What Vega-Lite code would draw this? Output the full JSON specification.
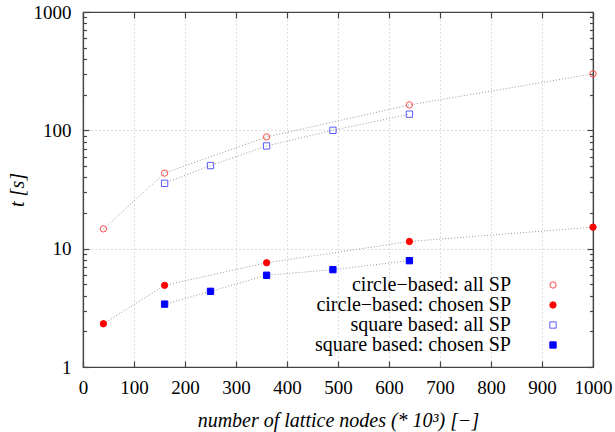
{
  "$schema": "https://vega.github.io/schema/vega-lite/v6.json",
  "width": 510,
  "height": 355,
  "autosize": {"type": "none"},
  "padding": {"left": 83, "top": 12, "right": 22, "bottom": 65},
  "background": "white",
  "config": {
    "view": {"stroke": "#444444", "strokeWidth": 1.2},
    "font": "Liberation Serif",
    "axis": {
      "labelFont": "Liberation Serif",
      "labelFontSize": 19,
      "labelColor": "black",
      "labelFlush": false,
      "labelOverlap": false,
      "titleFont": "Liberation Serif",
      "titleFontSize": 20,
      "titleFontStyle": "italic",
      "titleFontWeight": "normal",
      "titleColor": "black",
      "domainColor": "#444444",
      "domainWidth": 1.2,
      "tickColor": "#444444",
      "tickWidth": 1.2,
      "gridColor": "#bbbbbb",
      "gridDash": [1, 3],
      "gridWidth": 1
    },
    "legend": {
      "labelFont": "Liberation Serif",
      "labelFontSize": 20,
      "labelColor": "black",
      "labelLimit": 400
    }
  },
  "datasets": {
    "timings": [
      {"nodes": 40, "t": 14.7, "series": "circle−based: all SP"},
      {"nodes": 160, "t": 43.5, "series": "circle−based: all SP"},
      {"nodes": 360, "t": 88, "series": "circle−based: all SP"},
      {"nodes": 640, "t": 164, "series": "circle−based: all SP"},
      {"nodes": 1000, "t": 300, "series": "circle−based: all SP"},
      {"nodes": 40, "t": 2.32, "series": "circle−based: chosen SP"},
      {"nodes": 160, "t": 4.9, "series": "circle−based: chosen SP"},
      {"nodes": 360, "t": 7.6, "series": "circle−based: chosen SP"},
      {"nodes": 640, "t": 11.5, "series": "circle−based: chosen SP"},
      {"nodes": 1000, "t": 15.2, "series": "circle−based: chosen SP"},
      {"nodes": 160, "t": 35.7, "series": "square based: all SP"},
      {"nodes": 250, "t": 50.4, "series": "square based: all SP"},
      {"nodes": 360, "t": 73.8, "series": "square based: all SP"},
      {"nodes": 490, "t": 100, "series": "square based: all SP"},
      {"nodes": 640, "t": 137, "series": "square based: all SP"},
      {"nodes": 160, "t": 3.4, "series": "square based: chosen SP"},
      {"nodes": 250, "t": 4.36, "series": "square based: chosen SP"},
      {"nodes": 360, "t": 5.96, "series": "square based: chosen SP"},
      {"nodes": 490, "t": 6.65, "series": "square based: chosen SP"},
      {"nodes": 640, "t": 7.92, "series": "square based: chosen SP"}
    ]
  },
  "data": {"name": "timings"},
  "resolve": {"axis": {"x": "independent", "y": "independent"}},
  "layer": [
    {
      "mark": {"type": "line", "color": "#999999", "strokeWidth": 1, "strokeDash": [1, 2]},
      "encoding": {
        "x": {
          "field": "nodes",
          "type": "quantitative",
          "scale": {"domain": [0, 1000], "nice": false, "zero": false},
          "axis": {
            "orient": "bottom",
            "title": "number of lattice nodes (* 10³) [−]",
            "titleFont": "Liberation Serif",
            "titleFontStyle": "italic",
            "titlePadding": 13,
            "labelFont": "Liberation Serif",
            "values": [0, 100, 200, 300, 400, 500, 600, 700, 800, 900, 1000],
            "tickSize": -6,
            "labelPadding": 17,
            "grid": true,
            "format": "d"
          }
        },
        "y": {
          "field": "t",
          "type": "quantitative",
          "scale": {"type": "log", "domain": [1, 1000], "nice": false},
          "axis": {
            "orient": "left",
            "title": "t [s]",
            "titleFont": "Liberation Serif",
            "titleFontStyle": "italic",
            "titlePadding": 6,
            "labelFont": "Liberation Serif",
            "values": [1, 2, 3, 4, 5, 6, 7, 8, 9, 10, 20, 30, 40, 50, 60, 70, 80, 90, 100, 200, 300, 400, 500, 600, 700, 800, 900, 1000],
            "labelExpr": "indexof([1, 10, 100, 1000], datum.value) >= 0 ? datum.value : ''",
            "tickSize": {"condition": {"test": "indexof([1, 10, 100, 1000], datum.value) >= 0", "value": -6}, "value": -3.5},
            "gridOpacity": {"condition": {"test": "indexof([1, 10, 100, 1000], datum.value) >= 0", "value": 1}, "value": 0},
            "grid": true,
            "labelPadding": 18
          }
        },
        "detail": {"field": "series"}
      }
    },
    {
      "mark": {"type": "point", "size": 40, "strokeWidth": 1, "opacity": 1},
      "encoding": {
        "x": {
          "field": "nodes",
          "type": "quantitative",
          "scale": {"domain": [0, 1000], "nice": false, "zero": false},
          "axis": {
            "orient": "top",
            "title": null,
            "values": [0, 100, 200, 300, 400, 500, 600, 700, 800, 900, 1000],
            "labels": false,
            "tickSize": -6,
            "grid": false
          }
        },
        "y": {
          "field": "t",
          "type": "quantitative",
          "scale": {"type": "log", "domain": [1, 1000], "nice": false},
          "axis": {
            "orient": "right",
            "title": null,
            "values": [1, 2, 3, 4, 5, 6, 7, 8, 9, 10, 20, 30, 40, 50, 60, 70, 80, 90, 100, 200, 300, 400, 500, 600, 700, 800, 900, 1000],
            "labels": false,
            "tickSize": {"condition": {"test": "indexof([1, 10, 100, 1000], datum.value) >= 0", "value": -6}, "value": -3.5},
            "grid": false
          }
        },
        "shape": {
          "field": "series",
          "type": "nominal",
          "scale": {
            "domain": ["circle−based: all SP", "circle−based: chosen SP", "square based: all SP", "square based: chosen SP"],
            "range": ["circle", "circle", "square", "square"]
          },
          "legend": {
            "title": null,
            "orient": "none",
            "legendX": 460,
            "legendY": 263,
            "labelAlign": "right",
            "labelOffset": -52,
            "labelFont": "Liberation Serif",
            "rowPadding": 0,
            "symbolSize": 40,
            "symbolStrokeWidth": 1
          }
        },
        "stroke": {
          "field": "series",
          "type": "nominal",
          "scale": {
            "domain": ["circle−based: all SP", "circle−based: chosen SP", "square based: all SP", "square based: chosen SP"],
            "range": ["#ff4a4a", "#ff0000", "#5a5aff", "#0000ff"]
          },
          "legend": null
        },
        "fill": {
          "field": "series",
          "type": "nominal",
          "scale": {
            "domain": ["circle−based: all SP", "circle−based: chosen SP", "square based: all SP", "square based: chosen SP"],
            "range": ["transparent", "#ff0000", "transparent", "#0000ff"]
          },
          "legend": null
        }
      }
    }
  ]
}
